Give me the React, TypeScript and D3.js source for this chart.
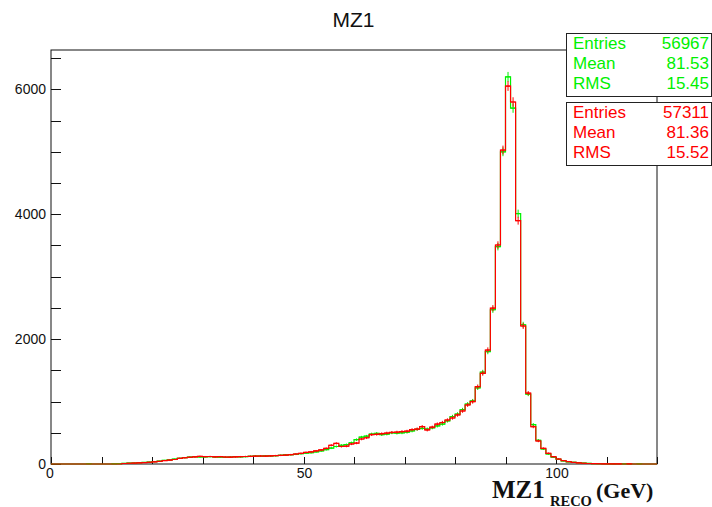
import React from "react";
import * as d3 from "d3";

// Histogram binning: 120 bins of 1 GeV from 0 to 120 GeV
const BIN_LOW = 0;
const BIN_HIGH = 120;

// Reconstructed Z1 mass, sample A (drawn in green)
const countsGreen: number[] = [
  0, 0, 0, 0, 0, 0, 0, 3, 0, 0,
  0, 0, 3, 5, 10, 14, 16, 20, 25, 30,
  38, 45, 58, 66, 78, 92, 102, 110, 116, 112,
  115, 118, 112, 110, 108, 112, 116, 115, 118, 124,
  128, 125, 130, 128, 132, 140, 145, 148, 155, 165,
  175, 180, 195, 210, 230, 255, 280, 300, 310, 340,
  390, 430, 445, 480, 490, 470, 480, 500, 495, 500,
  510, 530, 555, 570, 560, 580, 610, 640, 690, 760,
  800, 870, 960, 1010, 1220, 1470, 1800, 2470, 3480, 5000,
  6200, 5700, 4010, 2230, 1120, 630, 380, 240, 160, 110,
  75, 50, 35, 28, 20, 14, 10, 7, 5, 4,
  3, 2, 0, 2, 1, 0, 1, 0, 0, 0,
];

// Reconstructed Z1 mass, sample B (drawn in red, on top)
const countsRed: number[] = [
  0, 0, 0, 0, 0, 0, 0, 0, 0, 0,
  0, 0, 0, 0, 8, 12, 15, 18, 22, 28,
  35, 42, 55, 62, 72, 90, 100, 108, 115, 122,
  118, 120, 115, 118, 112, 110, 114, 118, 120, 122,
  125, 128, 126, 130, 135, 138, 142, 150, 160, 170,
  185, 195, 210, 225, 250, 300, 330, 280, 285, 320,
  335, 400, 420, 470, 475, 485, 495, 505, 510, 520,
  525, 550, 560, 600, 545, 590, 640, 665, 705, 737,
  785, 849, 945, 998, 1238, 1452, 1825, 2495, 3507, 5028,
  6053, 5797, 3896, 2210, 1135, 597, 368, 251, 171, 117,
  80, 55, 38, 25, 18, 12, 8, 6, 4, 3,
  2, 1, 1, 0, 1, 0, 0, 0, 0, 0,
];

const statLabels = ["Entries", "Mean", "RMS"];
const statsGreen = ["56967", "81.53", "15.45"];
const statsRed = ["57311", "81.36", "15.52"];

const yTickLabels = [0, 2000, 4000, 6000];
const xTickLabels = [0, 50, 100];

const W = 712;
const H = 507;
const frame = { left: 51, right: 657, top: 50, bottom: 464 };
const Y_MAX = 6630;

const GREEN = "#00f000";
const RED = "#ff0000";

const sans = "'Liberation Sans', Arial, Helvetica, sans-serif";
const serif = "'Liberation Serif', 'Times New Roman', serif";

const x = d3.scaleLinear().domain([BIN_LOW, BIN_HIGH]).range([frame.left, frame.right]);
const y = d3.scaleLinear().domain([0, Y_MAX]).range([frame.bottom, frame.top]);

const nBins = countsRed.length;
const binW = (BIN_HIGH - BIN_LOW) / nBins;

function stepPath(counts: number[]): string {
  const pts: [number, number][] = counts.map((c, i) => [BIN_LOW + i * binW, c]);
  pts.push([BIN_HIGH, counts[counts.length - 1]]);
  const line = d3
    .line<[number, number]>()
    .x((d) => x(d[0]))
    .y((d) => y(d[1]))
    .curve(d3.curveStepAfter);
  return line(pts) || "";
}

function ErrorBars({ counts, color }: { counts: number[]; color: string }) {
  return (
    <g stroke={color} strokeWidth={1}>
      {counts.map((c, i) => {
        if (c <= 0) return null;
        const err = Math.sqrt(c);
        const cx = x(BIN_LOW + (i + 0.5) * binW);
        return (
          <g key={i}>
            <line x1={cx} x2={cx} y1={y(c + err)} y2={y(Math.max(0, c - err))} />
            <line x1={x(BIN_LOW + i * binW)} x2={x(BIN_LOW + (i + 1) * binW)} y1={y(c)} y2={y(c)} />
          </g>
        );
      })}
    </g>
  );
}

function StatsBox({ top, color, values }: { top: number; color: string; values: string[] }) {
  const left = 566;
  const right = 711;
  const rowH = 20;
  return (
    <g>
      <rect x={left + 0.5} y={top + 0.5} width={right - left} height={rowH * 3 + 3} fill="white" stroke="#222" strokeWidth={1} />
      {statLabels.map((lab, i) => (
        <g key={lab} fill={color} fontFamily={sans} fontSize={17}>
          <text x={573} y={top + 16 + i * rowH}>{lab}</text>
          <text x={709} y={top + 16 + i * rowH} textAnchor="end">{values[i]}</text>
        </g>
      ))}
    </g>
  );
}

export default function App() {
  const yMinor = d3.range(0, Y_MAX, 500);
  const xMinor = d3.range(BIN_LOW, BIN_HIGH + 0.001, 10);
  return (
    <svg
      width={W}
      height={H}
      viewBox={`0 0 ${W} ${H}`}
      style={{ position: "absolute", left: 0, top: 0, background: "white" }}
    >
      <rect x={0} y={0} width={W} height={H} fill="white" />
      <defs>
        <clipPath id="plot-area">
          <rect x={frame.left} y={frame.top} width={frame.right - frame.left} height={frame.bottom - frame.top + 1} />
        </clipPath>
      </defs>

      {/* title */}
      <text x={353.5} y={26.5} textAnchor="middle" fontFamily={sans} fontSize={21} fill="#111">
        MZ1
      </text>

      {/* frame */}
      <rect
        x={frame.left}
        y={frame.top}
        width={frame.right - frame.left}
        height={frame.bottom - frame.top}
        fill="none"
        stroke="#111"
        strokeWidth={1}
      />

      {/* y axis ticks and labels */}
      <g stroke="#111" strokeWidth={1}>
        {yMinor.map((v) => (
          <line key={v} x1={frame.left} x2={frame.left + 10} y1={Math.round(y(v)) + 0.5} y2={Math.round(y(v)) + 0.5} />
        ))}
      </g>
      {yTickLabels.map((v) => (
        <text
          key={v}
          x={46}
          y={y(v) + 5}
          textAnchor="end"
          fontFamily={sans}
          fontSize={14}
          fill="#111"
        >
          {v}
        </text>
      ))}

      {/* x axis ticks and labels */}
      <g stroke="#111" strokeWidth={1}>
        {xMinor.map((v) => (
          <line key={v} x1={Math.round(x(v)) + 0.5} x2={Math.round(x(v)) + 0.5} y1={frame.bottom} y2={frame.bottom - 7} />
        ))}
      </g>
      {xTickLabels.map((v) => (
        <text key={v} x={x(v) + (v === 0 ? -1 : 1)} y={478} textAnchor="middle" fontFamily={sans} fontSize={14} fill="#111">
          {v}
        </text>
      ))}

      {/* histograms */}
      <g clipPath="url(#plot-area)">
        <path d={stepPath(countsGreen)} fill="none" stroke={GREEN} strokeWidth={1.2} />
        <ErrorBars counts={countsGreen} color={GREEN} />
        <path d={stepPath(countsRed)} fill="none" stroke={RED} strokeWidth={1.2} />
        <ErrorBars counts={countsRed} color={RED} />
      </g>

      {/* x axis title */}
      <text fontFamily={serif} fontWeight="bold" fill="#111">
        <tspan x={492} y={498} fontSize={25}>MZ1</tspan>
        <tspan x={550} y={505.5} fontSize={14.5}>RECO</tspan>
        <tspan x={596} y={498} fontSize={22}>(GeV)</tspan>
      </text>

      {/* statistics boxes */}
      <StatsBox top={33} color={GREEN} values={statsGreen} />
      <StatsBox top={102} color={RED} values={statsRed} />
    </svg>
  );
}
